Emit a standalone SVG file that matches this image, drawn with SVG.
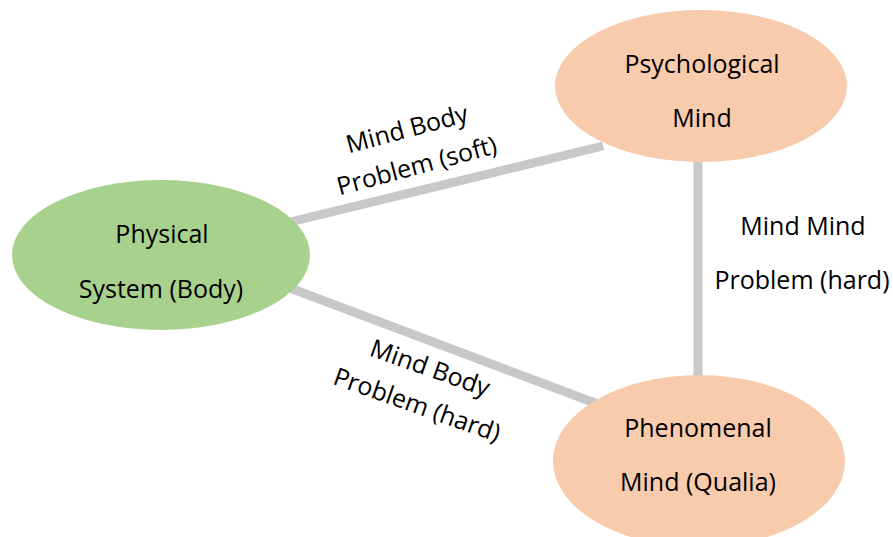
<svg xmlns="http://www.w3.org/2000/svg" width="893" height="537" viewBox="0 0 893 537">
<style>
.t{font-family:"Open Sans","Liberation Sans",sans-serif;font-size:25px;fill:#000;text-anchor:middle}
.ln{stroke:#c8c8c8;stroke-width:9;fill:none}
.green{fill:#a9d18e}
.orange{fill:#f8cbad}
</style>
<rect width="893" height="537" fill="#fff"/>
<g id="connectors">
<line class="ln" x1="290" y1="222" x2="603" y2="146"/>
<line class="ln" x1="290" y1="288" x2="603" y2="406"/>
<line class="ln" x1="698" y1="160" x2="698" y2="378"/>
</g>
<g id="node-physical">
<ellipse class="green" cx="161" cy="255" rx="149" ry="75"/>
<text class="t" x="162" y="243">Physical</text>
<text class="t" x="161" y="298">System (Body)</text>
</g>
<g id="node-psychological">
<ellipse class="orange" cx="701" cy="86" rx="146" ry="76"/>
<text class="t" x="702" y="73">Psychological</text>
<text class="t" x="702" y="127">Mind</text>
</g>
<g id="node-phenomenal">
<ellipse class="orange" cx="699" cy="461" rx="146" ry="86"/>
<text class="t" x="698" y="437">Phenomenal</text>
<text class="t" x="698" y="491">Mind (Qualia)</text>
</g>
<g id="labels">
<g transform="translate(412,148) rotate(-15)">
<text class="t" x="0" y="-11">Mind Body</text>
<text class="t" x="0" y="27">Problem (soft)</text>
</g>
<g transform="translate(423.5,386.5) rotate(19.5)">
<text class="t" x="0" y="-11">Mind Body</text>
<text class="t" x="0" y="28">Problem (hard)</text>
</g>
<text class="t" x="803" y="235">Mind Mind</text>
<text class="t" x="802" y="289">Problem (hard)</text>
</g>
</svg>
